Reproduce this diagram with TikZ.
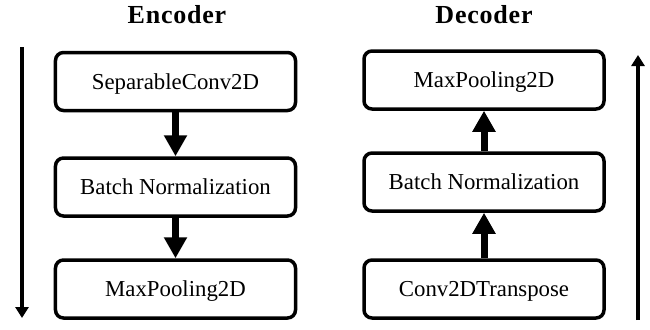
\documentclass[tikz,border=0pt]{standalone}
\usepackage{fontspec}
\setmainfont{Liberation Serif}
\newfontfamily\titlefont[LetterSpace=3]{Liberation Serif}
\usetikzlibrary{arrows.meta}

\tikzset{
  layer/.style={draw, line width=3.5bp, rounded corners=8bp,
    minimum width=240bp, minimum height=58bp, inner sep=0pt,
    text height=15bp, text depth=0pt,
    font=\fontsize{22.8bp}{27bp}\selectfont},
  heading/.style={anchor=base, inner sep=0pt,
    font=\titlefont\bfseries\fontsize{26bp}{30bp}\selectfont},
  flow/.style={line width=7bp, -{Triangle[width=22bp,length=21bp]}},
  direction/.style={line width=3.5bp, -{Triangle[width=13bp,length=11bp]}}
}

\begin{document}
\begin{tikzpicture}[x=1bp,y=-1bp]
  \useasboundingbox (0,0) rectangle (650,329);

  % Encoder column
  \node[heading] (enctitle) at (177,23) {Encoder};
  \node[layer] (e1) at (175.5,81.5) {SeparableConv2D};
  \node[layer] (e2) at (175.5,187) {Batch Normalization};
  \node[layer] (e3) at (175.5,289) {MaxPooling2D};
  \draw[flow] (e1.south) -- (e2.north);
  \draw[flow] (e2.south) -- (e3.north);

  % Decoder column
  \node[heading] (dectitle) at (484,23) {Decoder};
  \node[layer] (d1) at (484,80) {MaxPooling2D};
  \node[layer] (d2) at (484,182) {Batch Normalization};
  \node[layer] (d3) at (484,289) {Conv2DTranspose};
  \draw[flow] (d3.north) -- (d2.south);
  \draw[flow] (d2.north) -- (d1.south);

  % Direction of data flow alongside each column
  \coordinate (encstart) at (22,47);
  \coordinate (encend) at (22,318);
  \draw[direction] (encstart) -- (encend);
  \coordinate (decstart) at (638,320);
  \coordinate (decend) at (638,55);
  \draw[direction] (decstart) -- (decend);
\end{tikzpicture}
\end{document}
